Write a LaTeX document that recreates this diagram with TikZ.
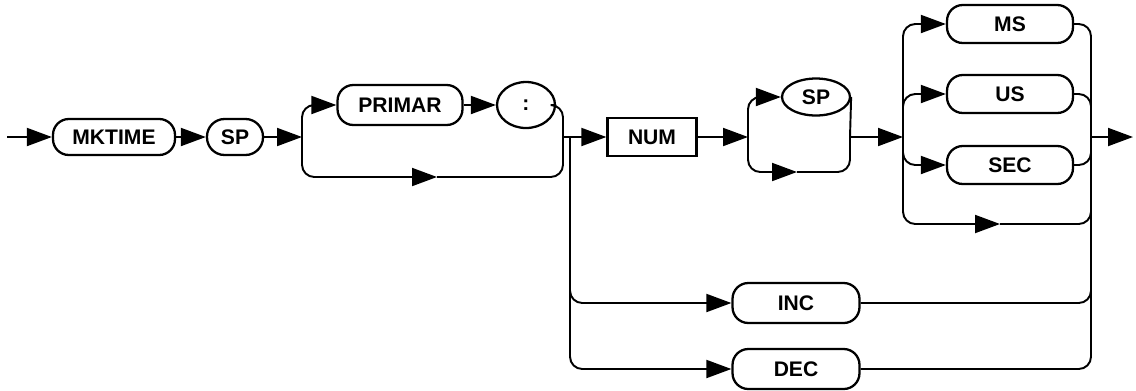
\documentclass[tikz,border=0pt]{standalone}
\usepackage{fontspec}
\setsansfont{Liberation Sans}
\usetikzlibrary{shapes.geometric, arrows.meta}

\begin{document}
\begin{tikzpicture}[
  x=0.02cm, y=-0.02cm, line width=1.1pt,
  arr/.style={-{Triangle[length=0.5cm, width=0.36cm]}},
  conn/.style={rounded corners=7pt},
  term/.style={draw, line width=1.3pt, rounded corners=9pt, minimum width=2.5cm, minimum height=0.76cm, inner sep=0pt, font=\sffamily\bfseries\fontsize{12}{14}\selectfont},
  oval/.style={draw, line width=1.3pt, ellipse, inner sep=0pt, font=\sffamily\bfseries\fontsize{12}{14}\selectfont}
]
  \useasboundingbox (0,0) rectangle (1136,390);

  \coordinate (start) at (7,137);
  \node[term, minimum width=2.44cm, minimum height=0.72cm] (mk) at (114,137) {MKTIME};
  \node[term, rounded corners=10pt, minimum width=1.12cm, minimum height=0.72cm] (sp1) at (235,137) {SP};
  \coordinate (b1) at (302,137);
  \node[term, minimum width=2.5cm, minimum height=0.8cm] (prim) at (400,105) {PRIMAR};
  \node[oval, minimum width=1.16cm, minimum height=0.92cm] (colon) at (526,105) {:};
  \coordinate (b1m) at (437,177);
  \coordinate (b1r) at (563,137);
  \coordinate (v1) at (570,137);
  \node[draw, line width=1.3pt, minimum width=1.78cm, minimum height=0.76cm, inner sep=0pt, font=\sffamily\bfseries\fontsize{12}{14}\selectfont] (num) at (652,137) {NUM};
  \coordinate (b2) at (748,137);
  \node[oval, minimum width=1.36cm, minimum height=0.74cm] (sp2) at (816,97) {SP};
  \coordinate (b2m) at (797,172);
  \coordinate (b2r) at (850,137);
  \coordinate (b3) at (903,137);
  \node[term, minimum width=2.52cm] (ms) at (1010,24) {MS};
  \node[term, minimum width=2.52cm] (us) at (1010,94) {US};
  \node[term, minimum width=2.52cm] (sec) at (1010,165) {SEC};
  \coordinate (b3m) at (1000,224);
  \coordinate (b3r) at (1091,137);
  \coordinate (out) at (1133,137);
  \node[term, minimum width=2.54cm, minimum height=0.8cm] (inc) at (796,303) {INC};
  \node[term, minimum width=2.54cm, minimum height=0.8cm] (dec) at (796,369) {DEC};

  \draw[arr] (start) -- (mk);
  \draw[arr] (mk) -- (sp1);
  \draw[arr] (sp1) -- (b1);
  \draw[arr, conn] (b1) |- (prim);
  \draw[arr] (prim) -- (colon);
  \draw[conn] (colon.east) -| (b1r);
  \draw[arr, conn] (b1) |- (b1m);
  \draw[conn] (b1m) -| (b1r);
  \draw[arr] (b1r) -- (num);

  \draw[arr, conn] (v1) |- (inc);
  \draw[arr, conn] (v1) |- (dec);
  \draw[conn] (inc) -| (b3r);
  \draw[conn] (dec) -| (b3r);

  \draw[arr] (num) -- (b2);
  \draw[arr, conn] (b2) |- (sp2);
  \draw (sp2.east) -- (b2r);
  \draw[arr, conn] (b2) |- (b2m);
  \draw[conn] (b2m) -| (b2r);
  \draw[arr] (b2r) -- (b3);

  \draw[arr, conn] (b3) |- (ms);
  \draw[arr, conn] (b3) |- (us);
  \draw[arr, conn] (b3) |- (sec);
  \draw[arr, conn] (b3) |- (b3m);
  \draw[conn] (ms) -| (b3r);
  \draw[conn] (us) -| (b3r);
  \draw[conn] (sec) -| (b3r);
  \draw[conn] (b3m) -| (b3r);
  \draw[arr] (b3r) -- (out);
\end{tikzpicture}
\end{document}
